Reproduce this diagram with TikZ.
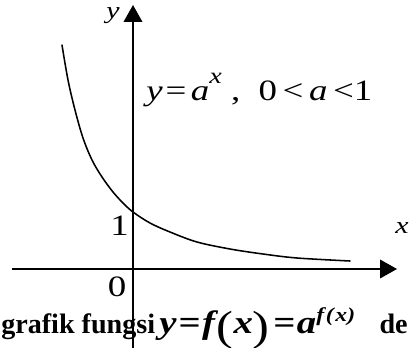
\documentclass[tikz,border=0pt]{standalone}
\usepackage{fontspec}
\setmainfont{Liberation Serif}
\usetikzlibrary{arrows.meta}

\newcommand{\tallparen}[1]{{\mdseries\upshape\raisebox{-5pt}{\fontsize{30}{30}\selectfont #1}}}
\newcommand{\wide}[1]{\scalebox{1.25}[1]{#1}}

\tikzset{
  axis/.style={line width=1.4pt, -{Triangle[length=4.2mm,width=4.6mm]}},
  graph/.style={line width=1.1pt, line join=round, line cap=round},
  lbl/.style={inner sep=0pt, font=\fontsize{21}{23}\selectfont},
  axlbl/.style={inner sep=0pt, font=\fontsize{17}{19}\selectfont\itshape},
  captext/.style={inner sep=0pt, font=\fontsize{20}{22}\selectfont\bfseries},
}

\begin{document}
\begin{tikzpicture}[x=0.25mm, y=-0.25mm]
    \path[use as bounding box, clip] (0,0) rectangle (409,348);

    % 1. Caption line (the y-axis runs over it)
    \node[captext, anchor=base west] (caption) at (1,333)
        {grafik fungsi\hspace{3pt}{\fontsize{23}{24}\selectfont\itshape\scalebox{1.2}[1]{y\hspace{1pt}=\hspace{1pt}f\hspace{1pt}\tallparen{(}x\tallparen{)}\hspace{2pt}=\hspace{1pt}a\raisebox{8pt}{\fontsize{14}{14}\selectfont f\hspace{1pt}(\hspace{1pt}x)}}}};
    \node[captext, anchor=base east] (capmore) at (408,333) {de};

    % 2. Axes
    \coordinate (O)  at (133,269);
    \coordinate (xl) at (12,269);
    \coordinate (xr) at (397,269);
    \coordinate (yb) at (133,352);
    \coordinate (yt) at (133,5);
    \draw[axis] (xl) -- (xr);
    \draw[axis] (yb) -- (yt);

    % 3. The curve y = a^x
    \draw[graph] plot[smooth, tension=0.55] coordinates {
        (62,45) (68,80) (75,110) (83,138) (92,160) (102,177) (113,192)
        (123,203) (133,212) (150,223) (170,232) (197,242) (230,249)
        (263,254) (297,258) (350,261)};

    % 4. Labels
    \node[axlbl, anchor=base] (ylab) at (113,18) {\wide{y}};
    \node[axlbl, anchor=base west] (xlab) at (395,233) {\wide{x}};
    \node[lbl, anchor=base] (one) at (119.5,235) {\wide{1}};
    \node[lbl, anchor=base] (zero) at (117,296) {\wide{0}};
    \node[lbl, anchor=base west] (eq) at (146,100)
        {\wide{\textit{y}\hspace{0.08em}=\hspace{0.12em}\textit{a}\raisebox{0.55em}{\fontsize{16}{16}\selectfont\textit{x}} ,\hspace{0.5em}0\hspace{0.15em}<\hspace{0.15em}\textit{a}\hspace{0.15em}<1}};
\end{tikzpicture}
\end{document}
